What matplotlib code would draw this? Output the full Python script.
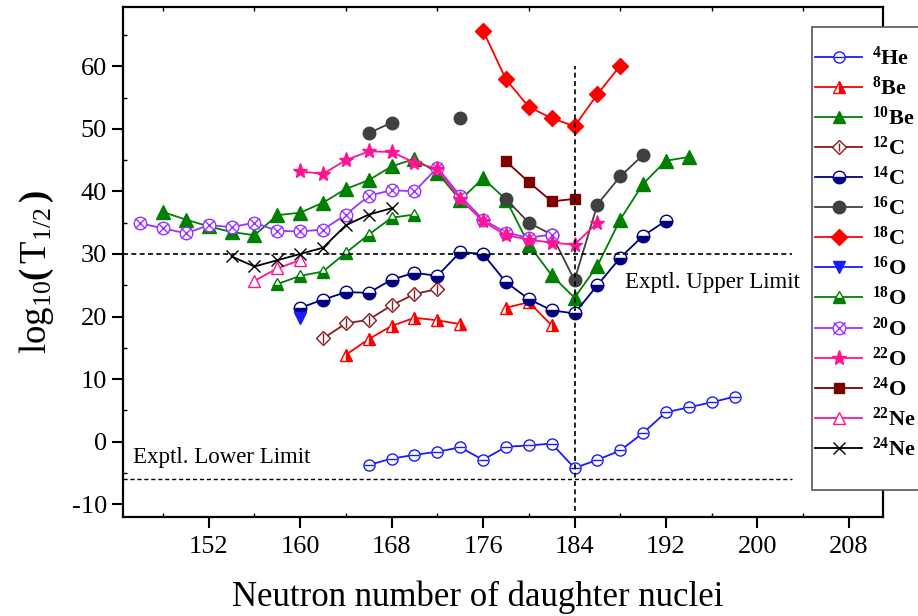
import matplotlib
matplotlib.use("Agg")
import matplotlib.pyplot as plt
from matplotlib.lines import Line2D
from matplotlib.patches import Rectangle
from matplotlib.legend_handler import HandlerTuple

plt.rcParams['font.family'] = ['Liberation Serif', 'DejaVu Serif']
plt.rcParams['mathtext.fontset'] = 'custom'
plt.rcParams['mathtext.rm'] = 'Liberation Serif'
plt.rcParams['mathtext.it'] = 'Liberation Serif:italic'
plt.rcParams['mathtext.bf'] = 'Liberation Serif:bold'
plt.rcParams['axes.unicode_minus'] = False

# ---- data: neutron number of daughter nuclei vs log10(T1/2) ----
he4_n = [166, 168, 170, 172, 174, 176, 178, 180, 182, 184, 186, 188, 190, 192, 194, 196, 198]
he4_t = [-3.7, -2.7, -2.1, -1.6, -0.9, -2.9, -0.8, -0.6, -0.3, -4.2, -2.9, -1.4, 1.4, 4.7, 5.5, 6.3, 7.2]

be8_n_a = [164, 166, 168, 170, 172, 174]
be8_t_a = [13.9, 16.4, 18.5, 19.8, 19.4, 18.8]
be8_n_b = [178, 180, 182]
be8_t_b = [21.4, 22.3, 18.6]

be10_n = [148, 150, 152, 154, 156, 158, 160, 162, 164, 166, 168, 170, 172, 174,
          176, 178, 180, 182, 184, 186, 188, 190, 192, 194]
be10_t = [36.7, 35.5, 34.4, 33.5, 33.0, 36.2, 36.6, 38.2, 40.4, 41.8, 44.0, 45.2, 43.0, 38.6,
          42.1, 38.7, 31.5, 26.6, 23.0, 28.1, 35.5, 41.2, 44.9, 45.5]

c12_n = [162, 164, 166, 168, 170, 172]
c12_t = [16.5, 18.9, 19.5, 21.8, 23.6, 24.4]

c14_n = [160, 162, 164, 166, 168, 170, 172, 174, 176, 178, 180, 182, 184, 186, 188, 190, 192]
c14_t = [21.4, 22.7, 23.9, 23.8, 25.9, 27.0, 26.5, 30.3, 30.0, 25.5, 22.8, 21.0, 20.5, 25.0, 29.4, 32.9, 35.3]

c16_n_a = [166, 168]
c16_t_a = [49.3, 51.0]
c16_n_b = [174]
c16_t_b = [51.8]
c16_n_c = [178, 180, 182, 184, 186, 188, 190]
c16_t_c = [38.8, 35.0, 33.1, 25.8, 37.9, 42.4, 45.8]

c18_n = [176, 178, 180, 182, 184, 186, 188]
c18_t = [65.7, 57.9, 53.5, 51.7, 50.4, 55.5, 60.1]

o16_n = [160]
o16_t = [19.7]

o18_n = [158, 160, 162, 164, 166, 168, 170]
o18_t = [25.2, 26.5, 27.2, 30.2, 33.1, 35.8, 36.3]

o20_n = [146, 148, 150, 152, 154, 156, 158, 160, 162, 164, 166, 168, 170, 172,
         174, 176, 178, 180, 182]
o20_t = [34.9, 34.1, 33.3, 34.6, 34.3, 35.0, 33.7, 33.6, 33.9, 36.3, 39.3, 40.2, 40.0, 43.8,
         39.3, 35.5, 33.4, 32.6, 33.1]

o22_n = [160, 162, 164, 166, 168, 170, 172, 174, 176, 178, 180, 182, 184, 186]
o22_t = [43.2, 42.8, 45.0, 46.4, 46.3, 44.6, 43.6, 38.8, 35.2, 33.0, 32.3, 31.8, 31.5, 35.0]

o24_n = [178, 180, 182, 184]
o24_t = [44.8, 41.5, 38.4, 38.8]

ne22_n = [156, 158, 160]
ne22_t = [25.7, 27.7, 29.0]

ne24_n = [154, 156, 158, 160, 162, 164, 166, 168]
ne24_t = [29.6, 28.0, 29.0, 30.0, 31.0, 34.6, 36.3, 37.3]

UPPER_LIMIT = 30
LOWER_LIMIT = -6
MAGIC_N = 184

# ---- colours ----
BLUE = '#1a1aff'
RED = '#ff0000'
GREEN = '#008000'
BROWN = '#8b1a1a'
NAVY = '#000080'
GRAY = '#404040'
PURPLE = '#9933ff'
PINK = '#ff1493'
MAROON = '#7b0000'

fig = plt.figure(figsize=(9.18, 6.16), dpi=100)
ax = fig.add_axes([0.134, 0.161, 0.828, 0.828])

LW = 1.3
MS = 8

def series(x, y, color, marker, ms=MS, **kw):
    ax.plot(x, y, color=color, lw=LW, marker=marker, ms=ms, mec=color, **kw)

# 4He: open circle with a bar
series(he4_n, he4_t, BLUE, 'o', mfc='white', mew=1.0)
ax.plot(he4_n, he4_t, ls='none', marker='_', ms=MS - 1, mec=BLUE, mew=1.0)

# 8Be: half-filled triangle
for xs, ys in ((be8_n_a, be8_t_a), (be8_n_b, be8_t_b)):
    series(xs, ys, RED, '^', ms=9, mfc=RED, fillstyle='right', markerfacecoloralt='white', mew=1.0)

series(be10_n, be10_t, GREEN, '^', ms=9.5, mfc=GREEN)

# 12C: open diamond with vertical bar
series(c12_n, c12_t, BROWN, 'D', ms=7, mfc='white', mew=1.0)
ax.plot(c12_n, c12_t, ls='none', marker='|', ms=7, mec=BROWN, mew=1.0)

series(c14_n, c14_t, NAVY, 'o', ms=9, mfc=NAVY, fillstyle='bottom', markerfacecoloralt='white', mew=1.0)

for xs, ys in ((c16_n_a, c16_t_a), (c16_n_b, c16_t_b), (c16_n_c, c16_t_c)):
    series(xs, ys, GRAY, 'o', ms=9, mfc=GRAY)

series(c18_n, c18_t, RED, 'D', ms=8, mfc=RED)
series(o16_n, o16_t, BLUE, 'v', ms=9, mfc=BLUE)
series(o18_n, o18_t, GREEN, '^', ms=9, mfc=GREEN, fillstyle='bottom', markerfacecoloralt='white', mew=1.0)

# 20O: hatched circle
series(o20_n, o20_t, PURPLE, 'o', ms=9, mfc='white', mew=1.0)
ax.plot(o20_n, o20_t, ls='none', marker='x', ms=7, mec=PURPLE, mew=1.0)

series(o22_n, o22_t, PINK, '*', ms=11, mfc=PINK)
series(o24_n, o24_t, MAROON, 's', ms=7, mfc=MAROON)
series(ne22_n, ne22_t, PINK, '^', ms=9, mfc='white', mew=1.0)
series(ne24_n, ne24_t, 'black', 'x', ms=9, mew=1.0)

# experimental limits and N = 184 shell closure
ax.hlines(UPPER_LIMIT, 144.5, 203, colors='black', linestyles=(0, (3, 2)), lw=1.2)
ax.hlines(LOWER_LIMIT, 144.5, 203, colors='black', linestyles=(0, (3, 2)), lw=1.0)
ax.vlines(MAGIC_N, -11, 60, colors='black', linestyles=(0, (3, 2)), lw=1.2)
ax.text(188.4, 25.5, 'Exptl. Upper Limit', fontsize=16.5, va='center', ha='left')
ax.text(145.4, -2.5, 'Exptl. Lower Limit', fontsize=16.5, va='center', ha='left')

ax.set_xlim(144.5, 211)
ax.set_ylim(-12, 69.5)
ax.set_xticks(range(152, 209, 8))
ax.set_xticks(range(148, 212, 4), minor=True)
ax.set_yticks(range(-10, 61, 10))
ax.set_yticks(range(-10, 70, 5), minor=True)
ax.tick_params(which='major', direction='out', length=8, width=1.5, labelsize=19,
               top=False, right=False)
ax.tick_params(axis='x', which='major', pad=6)
ax.tick_params(which='minor', direction='in', length=3, width=1.0, top=True, right=True)
for s in ax.spines.values():
    s.set_linewidth(1.6)

ax.set_xlabel('Neutron number of daughter nuclei', fontsize=25)
ax.xaxis.label.set_va('baseline')
ax.xaxis.set_label_coords(0.466, -0.1745)
ax.set_ylabel(r'$\mathrm{log}_{\mathrm{10}}\mathbf{(}\,\mathrm{T}_{\mathrm{1/2}}\,\mathbf{)}$',
              fontsize=26.5)
ax.yaxis.set_label_coords(-0.088, 0.48)

# ---- legend ----
def h(color, marker, ms=MS, overlay=None, **kw):
    base = Line2D([], [], color=color, lw=LW, marker=marker, ms=ms, mec=color, **kw)
    if overlay is None:
        return base
    top = Line2D([], [], ls='none', marker=overlay, ms=ms - 1, mec=color, mew=1.0)
    return (base, top)

handles = [
    h(BLUE, 'o', overlay='_', mfc='white', mew=1.0),
    h(RED, '^', ms=9, mfc=RED, fillstyle='right', markerfacecoloralt='white', mew=1.0),
    h(GREEN, '^', ms=9, mfc=GREEN),
    h(BROWN, 'D', ms=7, overlay='|', mfc='white', mew=1.0),
    h(NAVY, 'o', ms=9, mfc=NAVY, fillstyle='bottom', markerfacecoloralt='white', mew=1.0),
    h(GRAY, 'o', ms=9, mfc=GRAY),
    h(RED, 'D', mfc=RED),
    h(BLUE, 'v', ms=9, mfc=BLUE),
    h(GREEN, '^', ms=9, mfc=GREEN, fillstyle='bottom', markerfacecoloralt='white', mew=1.0),
    h(PURPLE, 'o', ms=9, overlay='x', mfc='white', mew=1.0),
    h(PINK, '*', ms=11, mfc=PINK),
    h(MAROON, 's', ms=7, mfc=MAROON),
    h(PINK, '^', ms=9, mfc='white', mew=1.0),
    h('black', 'x', ms=9, mew=1.0),
]
labels = [r'$\mathbf{^{4}He}$', r'$\mathbf{^{8}Be}$', r'$\mathbf{^{10}Be}$', r'$\mathbf{^{12}C}$',
          r'$\mathbf{^{14}C}$', r'$\mathbf{^{16}C}$', r'$\mathbf{^{18}C}$', r'$\mathbf{^{16}O}$',
          r'$\mathbf{^{18}O}$', r'$\mathbf{^{20}O}$', r'$\mathbf{^{22}O}$', r'$\mathbf{^{24}O}$',
          r'$\mathbf{^{22}Ne}$', r'$\mathbf{^{24}Ne}$']

# legend frame drawn separately so it can run past the right edge
fig.patches.append(Rectangle((812 / 918, 1 - 490 / 616), 0.2, 463 / 616,
                             transform=fig.transFigure, facecolor='white',
                             edgecolor='#555555', lw=1.2, zorder=5))
leg = fig.legend(handles, labels, loc='upper left', bbox_to_anchor=(812 / 918, 1 - 43 / 616),
                 bbox_transform=fig.transFigure, fontsize=16, frameon=False,
                 handlelength=2.1, handletextpad=0.45, labelspacing=0.31, borderpad=0.15,
                 borderaxespad=0, numpoints=1,
                 handler_map={tuple: HandlerTuple(ndivide=1, pad=0)})
leg.set_zorder(6)

fig.savefig('out.png', dpi=100)
